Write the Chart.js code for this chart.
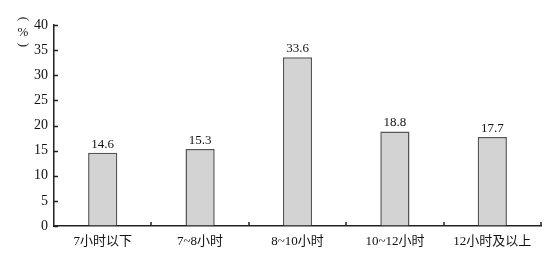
<!DOCTYPE html>
<html>
<head>
<meta charset="utf-8">
<script src="https://cdn.jsdelivr.net/npm/chart.js@4/dist/chart.umd.min.js"></script>
<style>
  html, body { margin: 0; padding: 0; background: #fff; }
  #wrap { width: 551px; height: 255px; }
</style>
</head>
<body>
<div id="wrap"><canvas id="chart" width="551" height="255"></canvas></div>
<script>
// data
const categories = ['7小时以下', '7~8小时', '8~10小时', '10~12小时', '12小时及以上'];
const shares = [14.6, 15.3, 33.6, 18.8, 17.7];
const yTicks = [0, 5, 10, 15, 20, 25, 30, 35, 40];
const yTitle = ['(', '%', ')'];

const FONT = '"Liberation Serif", "Noto Sans CJK SC", serif';
const INK = '#111';
const AXIS = '#222';

// inward tick marks on both axes, like the printed figure
const inwardTicks = {
    id: 'inwardTicks',
    afterDraw(chart) {
        const ctx = chart.ctx;
        const x = chart.scales.x, y = chart.scales.y;
        const area = chart.chartArea;
        ctx.save();
        ctx.strokeStyle = AXIS;
        ctx.lineWidth = 1.5;
        ctx.beginPath();
        yTicks.forEach(v => {
            const py = Math.round(y.getPixelForValue(v)) + 0.5;
            ctx.moveTo(area.left, py);
            ctx.lineTo(area.left + 4, py);
        });
        const half = (x.getPixelForValue(1) - x.getPixelForValue(0)) / 2;
        categories.forEach((c, i) => {
            const px = Math.round(x.getPixelForValue(i) + half);
            ctx.moveTo(px, area.bottom);
            ctx.lineTo(px, area.bottom - 4);
        });
        ctx.stroke();
        ctx.restore();
    }
};

// value above each bar
const barValues = {
    id: 'barValues',
    afterDatasetsDraw(chart) {
        const ctx = chart.ctx;
        const meta = chart.getDatasetMeta(0);
        ctx.save();
        ctx.fillStyle = INK;
        ctx.font = '13px ' + FONT;
        ctx.textAlign = 'center';
        ctx.textBaseline = 'bottom';
        meta.data.forEach((bar, i) => {
            ctx.fillText(shares[i].toFixed(1), bar.x, bar.y - 2);
        });
        ctx.restore();
    }
};

// vertical "(%)" unit label at the top of the y axis, brackets turned sideways
const unitLabel = {
    id: 'unitLabel',
    afterDraw(chart) {
        const ctx = chart.ctx;
        const area = chart.chartArea;
        const cx = area.left - 31;
        ctx.save();
        ctx.fillStyle = INK;
        ctx.textAlign = 'center';
        ctx.textBaseline = 'middle';
        ctx.font = '13px ' + FONT;
        [[yTitle[0], area.top - 6, true], [yTitle[1], area.top + 8, false], [yTitle[2], area.top + 20, true]]
            .forEach(([t, cy, turn]) => {
                ctx.save();
                ctx.translate(cx, cy);
                if (turn) ctx.rotate(Math.PI / 2);
                ctx.fillText(t, 0, 0);
                ctx.restore();
            });
        ctx.restore();
    }
};

new Chart(document.getElementById('chart'), {
    type: 'bar',
    data: {
        labels: categories,
        datasets: [{
            data: shares,
            backgroundColor: '#d3d3d3',
            borderColor: '#555',
            borderWidth: 1.5,
            borderSkipped: 'bottom',
            categoryPercentage: 0.3,
            barPercentage: 1,
        }],
    },
    options: {
        responsive: false,
        animation: false,
        devicePixelRatio: 1,
        layout: {
            padding: { top: 25, right: 10, left: 0, bottom: 0 },
        },
        plugins: {
            legend: { display: false },
            tooltip: { enabled: false },
        },
        scales: {
            x: {
                grid: { display: true, drawOnChartArea: false, drawTicks: false },
                border: { display: true, color: AXIS, width: 1.5 },
                ticks: {
                    color: INK,
                    padding: 8,
                    maxRotation: 0,
                    font: { size: 13, family: FONT },
                },
                afterFit(scale) { scale.height = 29; },
            },
            y: {
                min: 0,
                max: 40,
                grid: { display: true, drawOnChartArea: false, drawTicks: false },
                border: { display: true, color: AXIS, width: 1.5 },
                afterBuildTicks(scale) { scale.ticks = yTicks.map(v => ({ value: v })); },
                ticks: {
                    color: INK,
                    padding: 6,
                    font: { size: 14, family: FONT },
                },
                afterFit(scale) { scale.width = 54; },
            },
        },
    },
    plugins: [inwardTicks, barValues, unitLabel],
});
</script>
</body>
</html>
